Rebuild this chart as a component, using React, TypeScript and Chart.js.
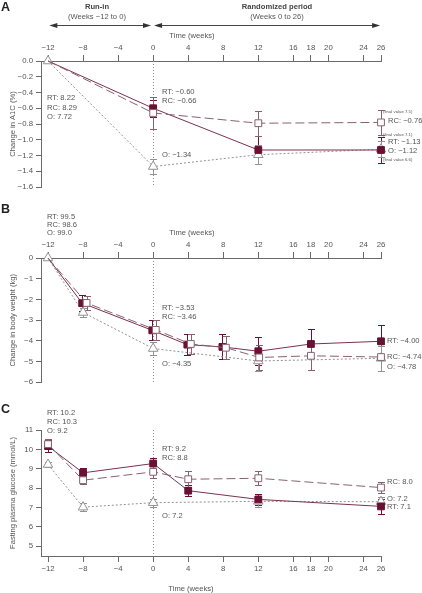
import React, { useEffect, useRef } from 'react';
import { Chart, registerables } from 'chart.js';

Chart.register(...registerables);

const FONT = '"Liberation Sans", Arial, sans-serif';
const TEXT = '#555555';
const AXIS = '#6a6a6a';

const C_RT = '#6a1034';
const C_RT_LINE = '#7a3150';
const C_RC = '#876170';
const C_O = '#929292';

// shared x axis (weeks)
const xTickValues = [-12, -8, -4, 0, 4, 8, 12, 16, 18, 20, 24, 26];

// Panel A: change in A1C (%)
const weeksA = [-12, 0, 12, 26];
const a1cRT = [0, -0.6, -1.13, -1.13];
const a1cRTErr = [0, 0.11, 0.18, 0.16];
const a1cRC = [0, -0.66, -0.79, -0.78];
const a1cRCErr = [0, 0.2, 0.16, 0.16];
const a1cO = [0, -1.34, -1.19, -1.12];
const a1cOErr = [0, 0.1, 0.12, 0.1];
const a1cYTicks = [0, -0.2, -0.4, -0.6, -0.8, -1.0, -1.2, -1.4, -1.6];

// Panel B: change in body weight (kg)
const weeksB_RT = [-12, -8.1, -0.1, 3.9, 7.9, 12, 18, 26];
const weightRT = [0, -2.18, -3.49, -4.18, -4.29, -4.5, -4.15, -4.02];
const weightRTErr = [0, 0.38, 0.48, 0.5, 0.6, 0.67, 0.7, 0.78];
const weeksB_RC = [-12, -7.6, 0.3, 4.3, 8.3, 12.1, 18, 26];
const weightRC = [0, -2.17, -3.47, -4.15, -4.33, -4.8, -4.72, -4.78];
const weightRCErr = [0, 0.35, 0.5, 0.5, 0.55, 0.6, 0.7, 0.65];
const weeksB_O = [-12, -8, 0, 12, 26];
const weightO = [0, -2.63, -4.37, -4.97, -4.84];
const weightOErr = [0, 0.2, 0.3, 0.5, 0.6];
const weightYTicks = [0, -1, -2, -3, -4, -5, -6];

// Panel C: fasting plasma glucose (mmol/L)
const weeksC = [-12, -8, 0, 4, 12, 26];
const fpgRT = [10.17, 8.79, 9.27, 7.87, 7.42, 7.06];
const fpgRTErr = [0.3, 0.25, 0.27, 0.3, 0.3, 0.4];
const fpgRC = [10.27, 8.41, 8.84, 8.46, 8.51, 8.03];
const fpgRCErr = [0.26, 0.2, 0.3, 0.4, 0.35, 0.3];
const weeksC_O = [-12, -8, 0, 12, 26];
const fpgO = [9.22, 7.02, 7.25, 7.32, 7.3];
const fpgOErr = [0.15, 0.2, 0.2, 0.3, 0.25];
const fpgYTicks = [5, 6, 7, 8, 9, 10, 11];

const minus = (s: string) => s.replace('-', '\u2212');
const fmt = (v: number, d: number) => minus(Number(v).toFixed(d));

type Kind = 'RT' | 'RC' | 'O';

function ds(kind: Kind, xs: number[], ys: number[], errs: number[], hideBaseline = false) {
  const radius = (r: number) => xs.map((_, i) => (hideBaseline && i === 0 ? 0 : r));
  const base: any = {
    label: kind,
    data: xs.map((x, i) => ({ x, y: ys[i] })),
    errors: errs,
    borderWidth: 1,
    pointBorderWidth: 1,
    tension: 0,
    fill: false,
    clip: false,
  };
  if (kind === 'RT') {
    return { ...base, order: 1, borderColor: C_RT_LINE, errColor: C_RT, pointStyle: 'rect', pointRadius: radius(4.8),
      pointBackgroundColor: C_RT, pointBorderColor: C_RT };
  }
  if (kind === 'RC') {
    return { ...base, order: 0, borderColor: C_RC, errColor: C_RC, borderDash: [9, 4], pointStyle: 'rect', pointRadius: radius(4.8),
      pointBackgroundColor: '#ffffff', pointBorderColor: C_RC };
  }
  return { ...base, order: 2, borderColor: C_O, errColor: C_O, borderDash: [2, 2], pointStyle: 'triangle', pointRadius: radius(5.5),
    pointBackgroundColor: '#ffffff', pointBorderColor: C_O };
}

type Txt = { t: string; x: number; y: number; size?: number; bold?: boolean; align?: CanvasTextAlign; color?: string };

type Spec = {
  height: number;
  padTop: number;
  padBottom: number;
  xPos: 'top' | 'bottom';
  xHeight: number;
  yMin: number;
  yMax: number;
  yTicks: number[];
  yDec: number;
  yTitle: string;
  datasets: any[];
  texts: Txt[];
  arrows?: boolean;
};

const LBL = 7.6;

function drawArrow(ctx: CanvasRenderingContext2D, x1: number, x2: number, y: number) {
  ctx.beginPath();
  ctx.moveTo(x1 + 6, y);
  ctx.lineTo(x2 - 6, y);
  ctx.stroke();
  ctx.beginPath();
  ctx.moveTo(x1, y);
  ctx.lineTo(x1 + 8, y - 2.6);
  ctx.lineTo(x1 + 8, y + 2.6);
  ctx.closePath();
  ctx.fill();
  ctx.beginPath();
  ctx.moveTo(x2, y);
  ctx.lineTo(x2 - 8, y - 2.6);
  ctx.lineTo(x2 - 8, y + 2.6);
  ctx.closePath();
  ctx.fill();
}

function decorPlugin(p: Spec) {
  return {
    id: 'decor',
    beforeDatasetsDraw(chart: any) {
      const { ctx, chartArea, scales } = chart;
      const xs = scales.x;
      const ys = scales.y;
      const x0 = Math.round(xs.getPixelForValue(0)) + 0.5;
      ctx.save();
      ctx.strokeStyle = '#8c8c8c';
      ctx.lineWidth = 1;
      ctx.setLineDash([1, 2]);
      ctx.beginPath();
      ctx.moveTo(x0, chartArea.top);
      ctx.lineTo(x0, chartArea.bottom);
      ctx.stroke();
      ctx.setLineDash([]);
      chart.data.datasets.forEach((d: any, i: number) => {
        const meta = chart.getDatasetMeta(i);
        ctx.strokeStyle = d.errColor;
        d.data.forEach((pt: any, j: number) => {
          const e = d.errors[j];
          if (!e) return;
          const px = Math.round(meta.data[j].x) + 0.5;
          const y1 = Math.round(ys.getPixelForValue(pt.y + e)) + 0.5;
          const y2 = Math.round(ys.getPixelForValue(pt.y - e)) + 0.5;
          ctx.beginPath();
          ctx.moveTo(px, y1);
          ctx.lineTo(px, y2);
          ctx.moveTo(px - 3.5, y1);
          ctx.lineTo(px + 3.5, y1);
          ctx.moveTo(px - 3.5, y2);
          ctx.lineTo(px + 3.5, y2);
          ctx.stroke();
        });
      });
      ctx.restore();
    },
    afterDraw(chart: any) {
      const { ctx, chartArea, scales } = chart;
      const xs = scales.x;
      ctx.save();
      ctx.textBaseline = 'middle';
      for (const t of p.texts) {
        ctx.font = `${t.bold ? 'bold ' : ''}${t.size ?? LBL}px ${FONT}`;
        ctx.fillStyle = t.color ?? TEXT;
        ctx.textAlign = t.align ?? 'left';
        ctx.fillText(t.t, t.x, t.y);
      }
      // y axis title
      ctx.save();
      ctx.translate(13, (chartArea.top + chartArea.bottom) / 2);
      ctx.rotate(-Math.PI / 2);
      ctx.textAlign = 'center';
      ctx.font = `${LBL}px ${FONT}`;
      ctx.fillStyle = TEXT;
      ctx.fillText(p.yTitle, 0, 0);
      ctx.restore();
      if (p.arrows) {
        ctx.strokeStyle = '#444444';
        ctx.fillStyle = '#333333';
        ctx.lineWidth = 1;
        const yA = 25.5;
        drawArrow(ctx, xs.getPixelForValue(-11.85), xs.getPixelForValue(-0.25), yA);
        drawArrow(ctx, xs.getPixelForValue(0.1), xs.getPixelForValue(25.9), yA);
      }
      ctx.restore();
    },
  };
}

function buildConfig(p: Spec): any {
  const tickFont = { family: FONT, size: 7.8 };
  return {
    type: 'line',
    data: { datasets: p.datasets },
    options: {
      responsive: false,
      animation: false,
      devicePixelRatio: 1,
      layout: { padding: { left: 0, right: 41, top: p.padTop, bottom: p.padBottom } },
      plugins: { legend: { display: false }, tooltip: { enabled: false }, title: { display: false } },
      scales: {
        x: {
          type: 'linear',
          position: p.xPos,
          min: -12.8,
          max: 26,
          afterBuildTicks: (s: any) => {
            s.ticks = xTickValues.map((v) => ({ value: v }));
          },
          afterFit: (s: any) => {
            s.height = p.xHeight;
          },
          ticks: {
            callback: (v: any) => fmt(v, 0),
            font: tickFont,
            color: TEXT,
            padding: 2,
            maxRotation: 0,
            autoSkip: false,
          },
          grid: { drawOnChartArea: false, drawTicks: true, tickLength: 6, color: AXIS },
          border: { display: true, color: AXIS, width: 1 },
        },
        y: {
          type: 'linear',
          min: p.yMin,
          max: p.yMax,
          afterBuildTicks: (s: any) => {
            s.ticks = p.yTicks.map((v) => ({ value: v }));
          },
          afterFit: (s: any) => {
            s.width = 41;
          },
          ticks: {
            callback: (v: any) => fmt(v, p.yDec),
            font: tickFont,
            color: TEXT,
            padding: 3,
          },
          grid: { drawOnChartArea: false, drawTicks: true, tickLength: 5, color: AXIS },
          border: { display: true, color: AXIS, width: 1 },
        },
      },
    },
    plugins: [decorPlugin(p)],
  };
}

const specA: Spec = {
  height: 196,
  padTop: 0,
  padBottom: 9,
  xPos: 'top',
  xHeight: 61,
  yMin: -1.6,
  yMax: 0,
  yTicks: a1cYTicks,
  yDec: 1,
  yTitle: 'Change in A1C (%)',
  arrows: true,
  datasets: [
    ds('RT', weeksA, a1cRT, a1cRTErr, true),
    ds('RC', weeksA, a1cRC, a1cRCErr, true),
    ds('O', weeksA, a1cO, a1cOErr),
  ],
  texts: [
    { t: 'A', x: 1, y: 8, size: 12.5, bold: true, color: '#222' },
    { t: 'Run-in', x: 97, y: 7, size: 7.6, bold: true, align: 'center', color: '#444' },
    { t: '(Weeks \u221212 to 0)', x: 97, y: 17, align: 'center' },
    { t: 'Randomized period', x: 277, y: 7, size: 7.6, bold: true, align: 'center', color: '#444' },
    { t: '(Weeks 0 to 26)', x: 277, y: 17, align: 'center' },
    { t: 'Time (weeks)', x: 192, y: 36, align: 'center' },
    { t: 'RT: 8.22', x: 47, y: 98 },
    { t: 'RC: 8.29', x: 47, y: 108 },
    { t: 'O: 7.72', x: 47, y: 117 },
    { t: 'RT: \u22120.60', x: 162, y: 92 },
    { t: 'RC: \u22120.66', x: 162, y: 101 },
    { t: 'O: \u22121.34', x: 162, y: 155 },
    { t: '(final value 7.5)', x: 383, y: 112, size: 4.3 },
    { t: 'RC: \u22120.76', x: 388, y: 121 },
    { t: '(final value 7.1)', x: 383, y: 135, size: 4.3 },
    { t: 'RT: \u22121.13', x: 388, y: 142 },
    { t: 'O: \u22121.12', x: 388, y: 151 },
    { t: '(final value 6.6)', x: 383, y: 160, size: 4.3 },
  ],
};

const specB: Spec = {
  height: 194,
  padTop: 0,
  padBottom: 7,
  xPos: 'top',
  xHeight: 62,
  yMin: -6,
  yMax: 0,
  yTicks: weightYTicks,
  yDec: 0,
  yTitle: 'Change in body weight (kg)',
  datasets: [
    ds('RT', weeksB_RT, weightRT, weightRTErr, true),
    ds('RC', weeksB_RC, weightRC, weightRCErr, true),
    ds('O', weeksB_O, weightO, weightOErr),
  ],
  texts: [
    { t: 'B', x: 1, y: 14, size: 12.5, bold: true, color: '#222' },
    { t: 'RT: 99.5', x: 47, y: 21 },
    { t: 'RC: 98.6', x: 47, y: 29 },
    { t: 'O: 99.0', x: 47, y: 37 },
    { t: 'Time (weeks)', x: 192, y: 37, align: 'center' },
    { t: 'RT: \u22123.53', x: 162, y: 112 },
    { t: 'RC: \u22123.46', x: 162, y: 121 },
    { t: 'O: \u22124.35', x: 162, y: 168 },
    { t: 'RT: \u22124.00', x: 387, y: 145 },
    { t: 'RC: \u22124.74', x: 387, y: 161 },
    { t: 'O: \u22124.78', x: 387, y: 171 },
  ],
};

const specC: Spec = {
  height: 203,
  padTop: 40,
  padBottom: 0,
  xPos: 'bottom',
  xHeight: 37,
  yMin: 4.5,
  yMax: 11,
  yTicks: fpgYTicks,
  yDec: 0,
  yTitle: 'Fasting plasma glucose (mmol/L)',
  datasets: [
    ds('RT', weeksC, fpgRT, fpgRTErr),
    ds('RC', weeksC, fpgRC, fpgRCErr),
    ds('O', weeksC_O, fpgO, fpgOErr),
  ],
  texts: [
    { t: 'C', x: 1, y: 20, size: 12.5, bold: true, color: '#222' },
    { t: 'RT: 10.2', x: 47, y: 23 },
    { t: 'RC: 10.3', x: 47, y: 32 },
    { t: 'O: 9.2', x: 47, y: 41 },
    { t: 'RT: 9.2', x: 162, y: 59 },
    { t: 'RC: 8.8', x: 162, y: 68 },
    { t: 'O: 7.2', x: 162, y: 126 },
    { t: 'RC: 8.0', x: 387, y: 92 },
    { t: 'O: 7.2', x: 387, y: 109 },
    { t: 'RT: 7.1', x: 387, y: 117 },
    { t: 'Time (weeks)', x: 191, y: 199, align: 'center' },
  ],
};

function Panel({ top, spec }: { top: number; spec: Spec }) {
  const ref = useRef<HTMLCanvasElement | null>(null);
  useEffect(() => {
    const chart = new Chart(ref.current as HTMLCanvasElement, buildConfig(spec));
    return () => chart.destroy();
  }, [spec]);
  return (
    <canvas
      ref={ref}
      width={422}
      height={spec.height}
      style={{ position: 'absolute', left: 0, top, width: 422, height: spec.height, display: 'block' }}
    />
  );
}

export default function App() {
  return (
    <div style={{ position: 'absolute', left: 0, top: 0, width: 422, height: 593, background: '#ffffff', overflow: 'hidden' }}>
      <Panel top={0} spec={specA} />
      <Panel top={196} spec={specB} />
      <Panel top={390} spec={specC} />
    </div>
  );
}
